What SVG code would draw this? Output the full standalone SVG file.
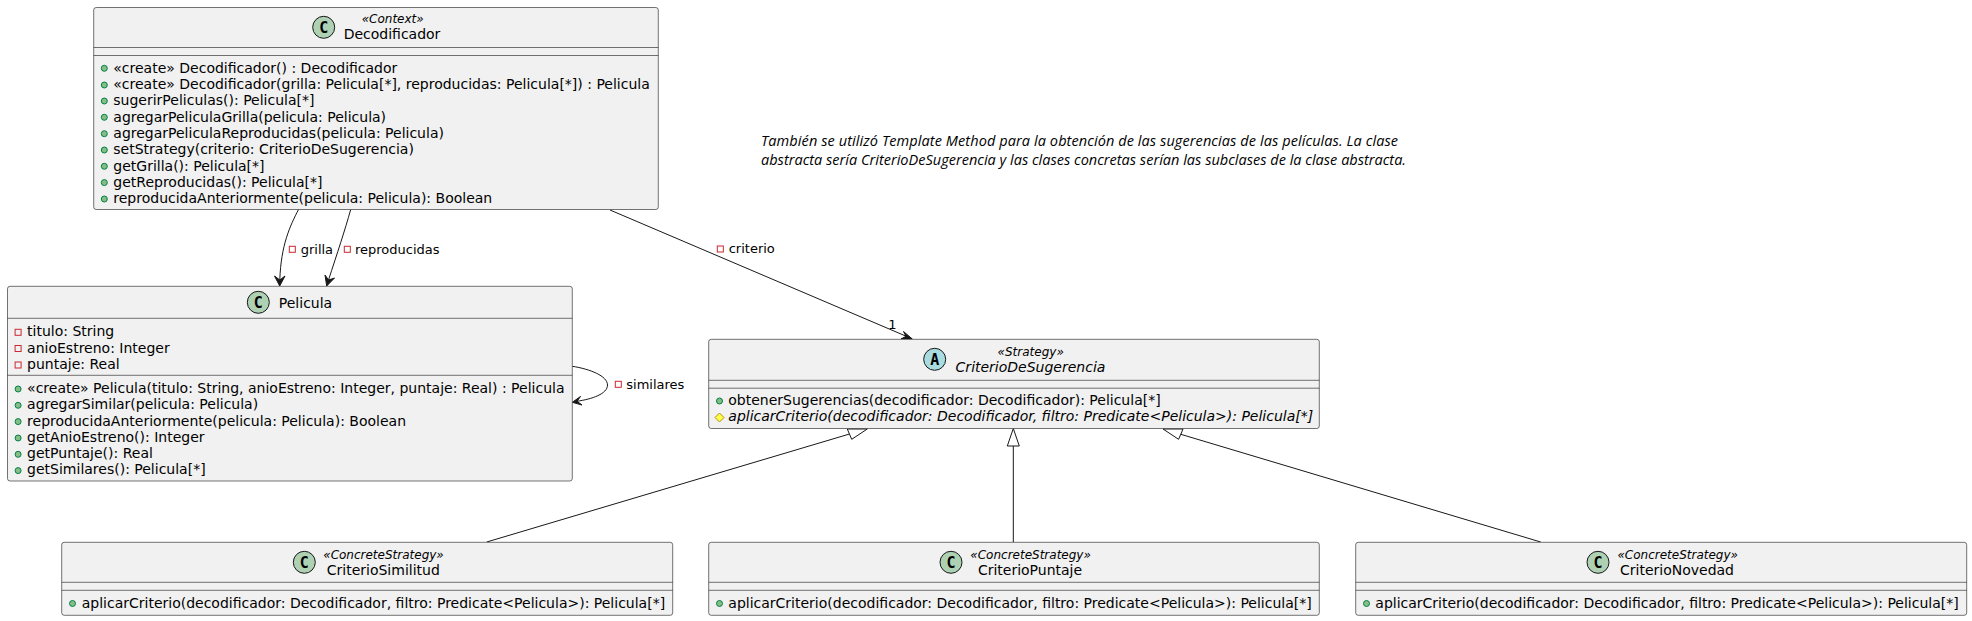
<svg xmlns="http://www.w3.org/2000/svg" width="1972" height="621" viewBox="0 0 1972 621">
<style>
text{font-family:"DejaVu Sans",sans-serif;font-size:14px;fill:#000}
.lbl{font-size:13px}
.box{fill:#F1F1F1;stroke:#181818;stroke-width:.6}
.ln{stroke:#181818;stroke-width:.6;fill:none}
.c{fill:none;stroke:#181818;stroke-width:1}
.ah{fill:#181818;stroke:#181818;stroke-width:1}
.tri{fill:#fff;stroke:#181818;stroke-width:1}
.spot{fill:#ADD1B2;stroke:#181818;stroke-width:1}
.spa{fill:#A9DCDF;stroke:#181818;stroke-width:1}
.sl{font-family:"DejaVu Sans Mono",monospace;font-weight:bold;font-size:15px;text-anchor:middle}
.st{font-size:12px;font-style:italic;text-anchor:middle}
.n{text-anchor:middle}
.i{font-style:italic}
.pub{fill:#84BE84;stroke:#038048;stroke-width:1}
.pri{fill:none;stroke:#C82930;stroke-width:1}
.pro{fill:#FFFF44;stroke:#B38D22;stroke-width:1}
.note{font-family:"Open Sans",sans-serif;font-style:italic;font-size:14.5px}
</style>
<g id="connectors">
<path class="c" d="M298.5 209.5C290 226 281 245 279.8 280"/><polygon class="ah" points="279.7,286 274.5,276 279.8,280 285,276"/>
<path class="c" d="M350.7 209.5C345 230 337 254 328.5 280"/><polygon class="ah" points="326.7,286 325,275 328.5,280 334.5,278"/>
<path class="c" d="M610 210L908 337"/><polygon class="ah" points="912.3,339 901,339 906,336.3 903.5,331.5"/>
<path class="c" d="M572.3 366.3C590 369 607.5 376 607.5 385C607.5 394 592 399 577 401.3"/><polygon class="ah" points="572.3,402.3 580.5,396.5 577,401.3 582,405"/>
<path class="c" d="M486.7 542L849.5 434"/><polygon class="tri" points="867.3,429 847.3,429 851.7,439.3"/>
<path class="c" d="M1013.3 542L1013.3 446"/><polygon class="tri" points="1013.3,428.5 1007.3,446 1019.3,446"/>
<path class="c" d="M1540.7 542L1180.8 434.3"/><polygon class="tri" points="1163,429 1183,429 1178.6,439.3"/>
<rect class="pri" x="289.3" y="246.3" width="6" height="6"/><text class="lbl" x="300.7" y="253.7">grilla</text>
<rect class="pri" x="344.3" y="246.3" width="6" height="6"/><text class="lbl" x="355" y="253.7">reproducidas</text>
<rect class="pri" x="717.3" y="246" width="6" height="6"/><text class="lbl" x="728.7" y="253.3">criterio</text>
<rect class="pri" x="615.3" y="381.3" width="6" height="6"/><text class="lbl" x="626.3" y="389">similares</text>
<text class="lbl" x="888.3" y="329">1</text>
</g>
<g id="decodificador">
<rect class="box" x="93.7" y="7.5" width="564.6" height="202" rx="2.5"/>
<path class="ln" d="M93.7 47.5H658.3M93.7 55.5H658.3"/>
<circle class="spot" cx="323.7" cy="27.3" r="11"/><text class="sl" x="323.7" y="32.5">C</text>
<text class="st" x="392.7" y="23">«Context»</text><text class="n" x="392" y="39">Decodificador</text>
<circle class="pub" cx="104.3" cy="68.3" r="3"/><text x="113.3" y="72.5">«create» Decodificador() : Decodificador</text>
<circle class="pub" cx="104.3" cy="85" r="3"/><text x="113.3" y="89">«create» Decodificador(grilla: Pelicula[*], reproducidas: Pelicula[*]) : Pelicula</text>
<circle class="pub" cx="104.3" cy="101" r="3"/><text x="113.3" y="105.3">sugerirPeliculas(): Pelicula[*]</text>
<circle class="pub" cx="104.3" cy="117.3" r="3"/><text x="113.3" y="121.6">agregarPeliculaGrilla(pelicula: Pelicula)</text>
<circle class="pub" cx="104.3" cy="133.7" r="3"/><text x="113.3" y="137.9">agregarPeliculaReproducidas(pelicula: Pelicula)</text>
<circle class="pub" cx="104.3" cy="150" r="3"/><text x="113.3" y="154.2">setStrategy(criterio: CriterioDeSugerencia)</text>
<circle class="pub" cx="104.3" cy="166.3" r="3"/><text x="113.3" y="170.5">getGrilla(): Pelicula[*]</text>
<circle class="pub" cx="104.3" cy="182.6" r="3"/><text x="113.3" y="186.8">getReproducidas(): Pelicula[*]</text>
<circle class="pub" cx="104.3" cy="199" r="3"/><text x="113.3" y="203.2">reproducidaAnteriormente(pelicula: Pelicula): Boolean</text>
</g>
<g id="pelicula">
<rect class="box" x="7.5" y="286.3" width="564.8" height="194.7" rx="2.5"/>
<path class="ln" d="M7.5 318.3H572.3M7.5 375.3H572.3"/>
<circle class="spot" cx="258.3" cy="302.3" r="11"/><text class="sl" x="258.3" y="307.5">C</text>
<text class="n" x="305.5" y="308.3">Pelicula</text>
<rect class="pri" x="15.1" y="329.3" width="6" height="6"/><text x="27.1" y="336">titulo: String</text>
<rect class="pri" x="15.1" y="345.5" width="6" height="6"/><text x="27.1" y="352.6">anioEstreno: Integer</text>
<rect class="pri" x="15.1" y="362" width="6" height="6"/><text x="27.1" y="369.2">puntaje: Real</text>
<circle class="pub" cx="18.1" cy="389" r="3"/><text x="27.1" y="393.2">«create» Pelicula(titulo: String, anioEstreno: Integer, puntaje: Real) : Pelicula</text>
<circle class="pub" cx="18.1" cy="405.3" r="3"/><text x="27.1" y="409.4">agregarSimilar(pelicula: Pelicula)</text>
<circle class="pub" cx="18.1" cy="421.6" r="3"/><text x="27.1" y="425.7">reproducidaAnteriormente(pelicula: Pelicula): Boolean</text>
<circle class="pub" cx="18.1" cy="438" r="3"/><text x="27.1" y="442">getAnioEstreno(): Integer</text>
<circle class="pub" cx="18.1" cy="454.3" r="3"/><text x="27.1" y="458">getPuntaje(): Real</text>
<circle class="pub" cx="18.1" cy="470.6" r="3"/><text x="27.1" y="474.2">getSimilares(): Pelicula[*]</text>
</g>
<g id="criterioDeSugerencia">
<rect class="box" x="708.7" y="339.3" width="610.6" height="89.2" rx="2.5"/>
<path class="ln" d="M708.7 380.3H1319.3M708.7 388.2H1319.3"/>
<circle class="spa" cx="934.7" cy="359.3" r="11"/><text class="sl" x="934.7" y="364.5">A</text>
<text class="st" x="1030.7" y="355.7">«Strategy»</text><text class="n i" x="1030.5" y="371.7">CriterioDeSugerencia</text>
<circle class="pub" cx="719.5" cy="401" r="3"/><text x="728.3" y="405">obtenerSugerencias(decodificador: Decodificador): Pelicula[*]</text>
<polygon class="pro" points="719.5,413 724,417.5 719.5,422 715,417.5"/><text class="i" x="728.3" y="421.3">aplicarCriterio(decodificador: Decodificador, filtro: Predicate&lt;Pelicula&gt;): Pelicula[*]</text>
</g>
<g id="criterioSimilitud">
<rect class="box" x="61.7" y="542.3" width="611" height="73" rx="2.5"/>
<path class="ln" d="M61.7 582.3H672.7M61.7 590.3H672.7"/>
<circle class="spot" cx="304.3" cy="562.3" r="11"/><text class="sl" x="304.3" y="567.5">C</text>
<text class="st" x="383.5" y="558.5">«ConcreteStrategy»</text><text class="n" x="383.3" y="575">CriterioSimilitud</text>
<circle class="pub" cx="72.5" cy="603.5" r="3"/><text x="81.7" y="608">aplicarCriterio(decodificador: Decodificador, filtro: Predicate&lt;Pelicula&gt;): Pelicula[*]</text>
</g>
<g id="criterioPuntaje">
<rect class="box" x="708.7" y="542.3" width="610.6" height="73" rx="2.5"/>
<path class="ln" d="M708.7 582.3H1319.3M708.7 590.3H1319.3"/>
<circle class="spot" cx="951" cy="562.3" r="11"/><text class="sl" x="951" y="567.5">C</text>
<text class="st" x="1030.6" y="558.5">«ConcreteStrategy»</text><text class="n" x="1030" y="575">CriterioPuntaje</text>
<circle class="pub" cx="719.5" cy="603.5" r="3"/><text x="728.3" y="608">aplicarCriterio(decodificador: Decodificador, filtro: Predicate&lt;Pelicula&gt;): Pelicula[*]</text>
</g>
<g id="criterioNovedad">
<rect class="box" x="1355.7" y="542.3" width="611" height="73" rx="2.5"/>
<path class="ln" d="M1355.7 582.3H1966.7M1355.7 590.3H1966.7"/>
<circle class="spot" cx="1598" cy="562.3" r="11"/><text class="sl" x="1598" y="567.5">C</text>
<text class="st" x="1677.7" y="558.5">«ConcreteStrategy»</text><text class="n" x="1677" y="575">CriterioNovedad</text>
<circle class="pub" cx="1366.5" cy="603.5" r="3"/><text x="1375.3" y="608">aplicarCriterio(decodificador: Decodificador, filtro: Predicate&lt;Pelicula&gt;): Pelicula[*]</text>
</g>
<g id="note">
<text class="note" x="761" y="145.7" textLength="637">También se utilizó Template Method para la obtención de las sugerencias de las películas. La clase</text>
<text class="note" x="761" y="165" textLength="645">abstracta sería CriterioDeSugerencia y las clases concretas serían las subclases de la clase abstracta.</text>
</g>
</svg>
